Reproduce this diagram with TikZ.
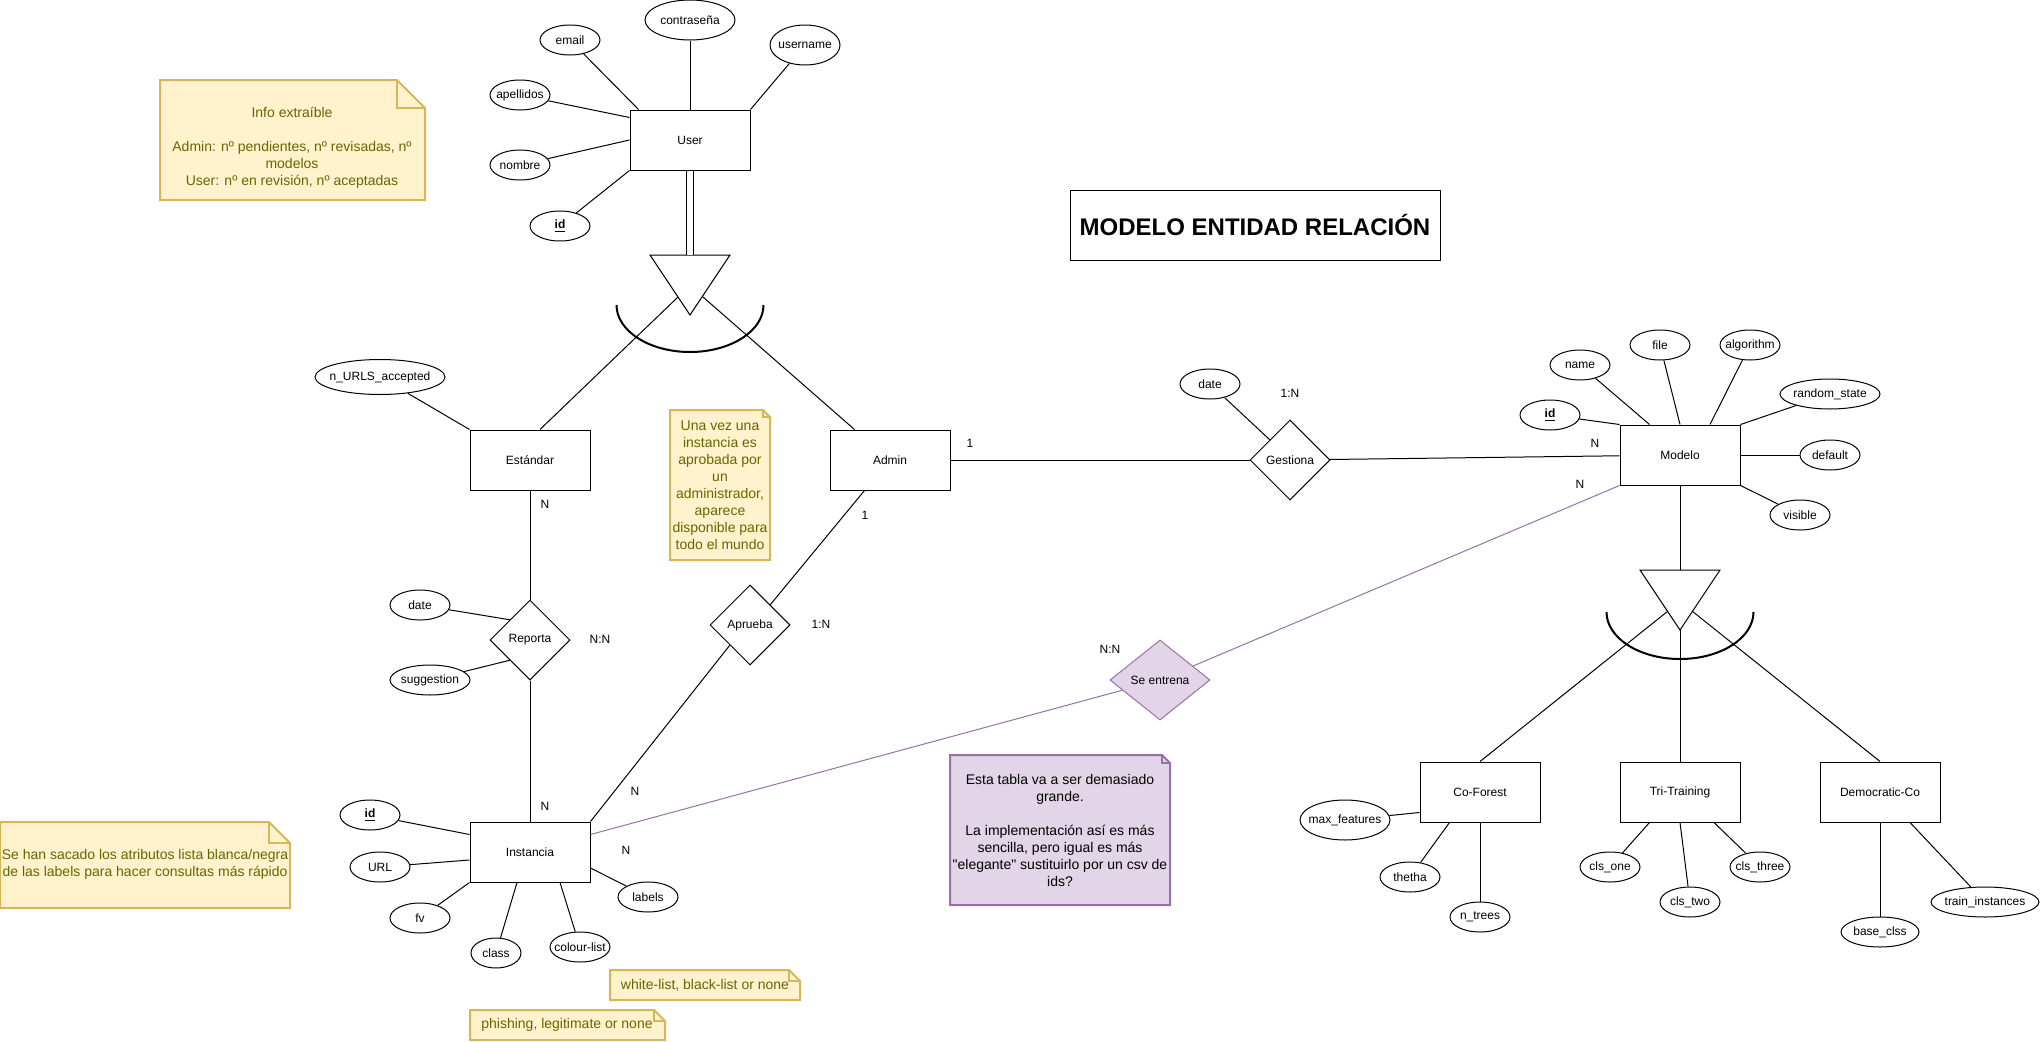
\documentclass[tikz,border=0pt]{standalone}
\usepackage{fontspec}
\setmainfont{Liberation Sans}
\usepackage{tikz}
\usetikzlibrary{shapes.geometric,calc}
\definecolor{notefill}{HTML}{FFF2CC}
\definecolor{notedraw}{HTML}{D6B656}
\definecolor{notetext}{HTML}{666600}
\definecolor{purplefill}{HTML}{E1D5E7}
\definecolor{purpledraw}{HTML}{9673A6}

\begin{document}
\begin{tikzpicture}[x=0.75pt,y=-0.75pt,line width=0.75pt,
		every node/.style={font=\fontsize{9}{10.8}\selectfont},
		entity/.style={rectangle,draw,minimum width=90pt,minimum height=45pt,inner sep=0pt},
		attr/.style={ellipse,draw,minimum width=45pt,minimum height=22.5pt,inner xsep=-6pt,inner ysep=0pt},
		rel/.style={diamond,draw,minimum width=60pt,minimum height=60pt,inner sep=0pt},
		card/.style={inner sep=0pt},
		notebg/.style={fill=notefill,draw=notedraw,line width=1.5pt},
		note/.style={align=center,text=notetext,inner sep=0pt,font=\fontsize{10.5}{12.75}\selectfont},
		trained/.style={draw=purpledraw}]
		
		\useasboundingbox (0,0) rectangle (2042,1042);
		
		% notes
		\foreach \xa/\ya/\xb/\yb/\f in {160/80/425/200/28, 670/410/770/560/7, 0/822/290/908/21,
				610/970/800/1000/11, 470/1010/665/1040/11}{
			\draw[notebg] (\xa,\ya) -- (\xb-\f,\ya) -- (\xb,\ya+\f) -- (\xb,\yb) -- (\xa,\yb) -- cycle;
			\draw[notebg,fill=none] (\xb-\f,\ya) |- (\xb,\ya+\f);
		}
		\draw[notebg,fill=purplefill,draw=purpledraw] (950,755) -- (1162,755) -- (1170,763) -- (1170,905) -- (950,905) -- cycle;
		\draw[notebg,fill=none,draw=purpledraw] (1162,755) |- (1170,763);
		
		\node[note] (info) at (292,148) {Info extraíble\\~\\Admin: nº pendientes, nº revisadas, nº\\modelos\\User: nº en revisión, nº aceptadas};
		\node[note] (unavez) at (720,485) {Una vez una\\instancia es\\aprobada por\\un\\administrador,\\aparece\\disponible para\\todo el mundo};
		\node[note] (sehan) at (145,864) {Se han sacado los atributos lista blanca/negra\\de las labels para hacer consultas más rápido};
		\node[note] (whitelist) at (705,985) {white-list, black-list or none};
		\node[note] (phishing) at (567,1025) {phishing, legitimate or none};
		\node[note,text=black] (tabla) at (1060,830) {Esta tabla va a ser demasiado\\grande.\\~\\La implementación así es más\\sencilla, pero igual es más\\\textquotedbl elegante\textquotedbl{} sustituirlo por un csv de\\ids?};
		
		\node[draw,minimum width=277.5pt,minimum height=52.5pt,font=\fontsize{18}{21.6}\selectfont\bfseries] (title) at (1255,225) {MODELO ENTIDAD RELACIÓN};
		
		\node[entity] (user) at (690,140) {User};
		\node[attr,minimum width=67.5pt,minimum height=30pt] (pass) at (690,20) {contraseña};
		\node[attr] (email) at (570,40) {email};
		\node[attr,minimum width=52.5pt,minimum height=30pt] (username) at (805,45) {username};
		\node[attr] (apellidos) at (520,95) {apellidos};
		\node[attr] (nombre) at (520,165) {nombre};
		\node[attr] (userid) at (560,226) {\underline{\textbf{id}}};
		
		\coordinate (isaU) at (690,255);
		\node[entity] (estandar) at (530,460) {Estándar};
		\node[entity] (admin) at (890,460) {Admin};
		\node[attr,minimum width=97.5pt,minimum height=26.25pt] (nurls) at (380,377) {n\_URLS\_accepted};
		
		\node[rel] (reporta) at (530,640) {Reporta};
		\node[attr] (repdate) at (420,605) {date};
		\node[attr,minimum width=60pt] (suggestion) at (430,680) {suggestion};
		\node[rel] (aprueba) at (750,625) {Aprueba};
		
		\node[entity] (instancia) at (530,852) {Instancia};
		\node[attr] (instid) at (370,815) {\underline{\textbf{id}}};
		\node[attr] (url) at (380,867) {URL};
		\node[attr] (fv) at (420,918) {fv};
		\node[attr,minimum width=37.5pt] (class) at (496,953) {class};
		\node[attr] (colour) at (580,947) {colour-list};
		\node[attr] (labels) at (648,897) {labels};
		
		\node[rel] (gestiona) at (1290,460) {Gestiona};
		\node[attr] (gesdate) at (1210,384) {date};
		
		\node[entity] (modelo) at (1680,455) {Modelo};
		\node[attr] (modid) at (1550,415) {\underline{\textbf{id}}};
		\node[attr] (name) at (1580,365) {name};
		\node[attr] (file) at (1660,345) {file};
		\node[attr] (algorithm) at (1750,345) {algorithm};
		\node[attr,minimum width=75pt] (random) at (1830,394) {random\_state};
		\node[attr] (default) at (1830,455) {default};
		\node[attr] (visible) at (1800,515) {visible};
		
		\node[rel,fill=purplefill,draw=purpledraw,minimum width=75pt] (sentrena) at (1160,680) {Se entrena};
		
		\coordinate (isaM) at (1680,570);
		\node[entity] (coforest) at (1480,792) {Co-Forest};
		\node[entity] (tritraining) at (1680,792) {Tri-Training};
		\node[entity] (democratic) at (1880,792) {Democratic-Co};
		\node[attr,minimum width=67.5pt,minimum height=30pt] (maxfeat) at (1345,820) {max\_features};
		\node[attr] (thetha) at (1410,877) {thetha};
		\node[attr] (ntrees) at (1480,917) {n\_trees};
		\node[attr] (clsone) at (1610,867) {cls\_one};
		\node[attr] (clstwo) at (1690,902) {cls\_two};
		\node[attr] (clsthree) at (1760,867) {cls\_three};
		\node[attr,minimum width=58.5pt] (baseclss) at (1880,932) {base\_clss};
		\node[attr,minimum width=81pt] (traininst) at (1985,902) {train\_instances};
		
		\node[card] (cEst) at (545,504) {N};
		\node[card] (cRep) at (600,639) {N:N};
		\node[card] (cInsRep) at (545,806) {N};
		\node[card] (cAdmApr) at (865,515) {1};
		\node[card] (cApr) at (821,624) {1:N};
		\node[card] (cInsApr) at (635,791) {N};
		\node[card] (cInsEnt) at (626,850) {N};
		\node[card] (cAdmGes) at (970,443) {1};
		\node[card] (cGes) at (1290,393) {1:N};
		\node[card] (cModGes) at (1595,443) {N};
		\node[card] (cModEnt) at (1580,484) {N};
		\node[card] (cEnt) at (1110,649) {N:N};
		
		% jerarquias
		\foreach \n/\d in {isaU/50, isaM/42}{
			\draw (\n) ++(-40,0) -- ++(80,0) -- ++(-40,60) -- cycle;
			\draw[line width=1.5pt] ($(\n)+(-73.5,\d)$) arc[start angle=180,end angle=360,x radius=55.125pt,y radius=35.25pt];
		}
		\draw[double,double distance=4.5pt] (user) -- (isaU);
		\draw (modelo) -- (isaM);
		\draw ($(isaM)+(0,60)$) -- (tritraining);
		
		\path
		($(isaU)+(-12,42)$) edge ($(estandar.north)+(10,0)$)
		($(isaU)+(13,42)$) edge ($(admin.north west)+(25,0)$)
		($(isaM)+(-12,41)$) edge (coforest.north)
		($(isaM)+(12,41)$) edge (democratic.north)
		(pass) edge (user.north)
		(email) edge ($(user.north west)+(9,0)$)
		(username) edge (user.north east)
		(apellidos) edge ($(user.north west)+(0,8)$)
		(nombre) edge (user.west)
		(userid) edge (user.south west)
		(nurls) edge (estandar.north west)
		(estandar) edge (reporta)
		(reporta) edge (instancia)
		(repdate) edge (reporta.north west)
		(suggestion) edge (reporta.south west)
		($(admin.south west)+(35,0)$) edge (aprueba.north east)
		(aprueba.south west) edge (instancia.north east)
		(admin) edge (gestiona)
		(gestiona) edge (modelo)
		(gesdate) edge (gestiona.north west)
		(instid) edge ($(instancia.north west)+(0,13)$)
		(url) edge ($(instancia.west)+(0,8)$)
		(fv) edge (instancia.south west)
		(class) edge ($(instancia.south)+(-13,0)$)
		(colour) edge ($(instancia.south)+(30,0)$)
		(labels) edge ($(instancia.east)+(0,16)$)
		(modid) edge (modelo.north west)
		(name) edge ($(modelo.north west)+(30,0)$)
		(file) edge (modelo.north)
		(algorithm) edge ($(modelo.north)+(30,0)$)
		(random) edge (modelo.north east)
		(default) edge (modelo.east)
		(visible) edge (modelo.south east)
		(maxfeat) edge ($(coforest.south west)+(0,-10)$)
		(thetha) edge ($(coforest.south west)+(30,0)$)
		(ntrees) edge (coforest.south)
		(clsone) edge ($(tritraining.south west)+(30,0)$)
		(clstwo) edge (tritraining.south)
		(clsthree) edge ($(tritraining.south)+(34,0)$)
		(baseclss) edge (democratic.south)
		(traininst) edge ($(democratic.south)+(30,0)$);
		
		\draw[trained] ($(instancia.north east)+(0,13)$) -- (sentrena);
		\draw[trained] (sentrena) -- (modelo.south west);
\end{tikzpicture}
\end{document}
